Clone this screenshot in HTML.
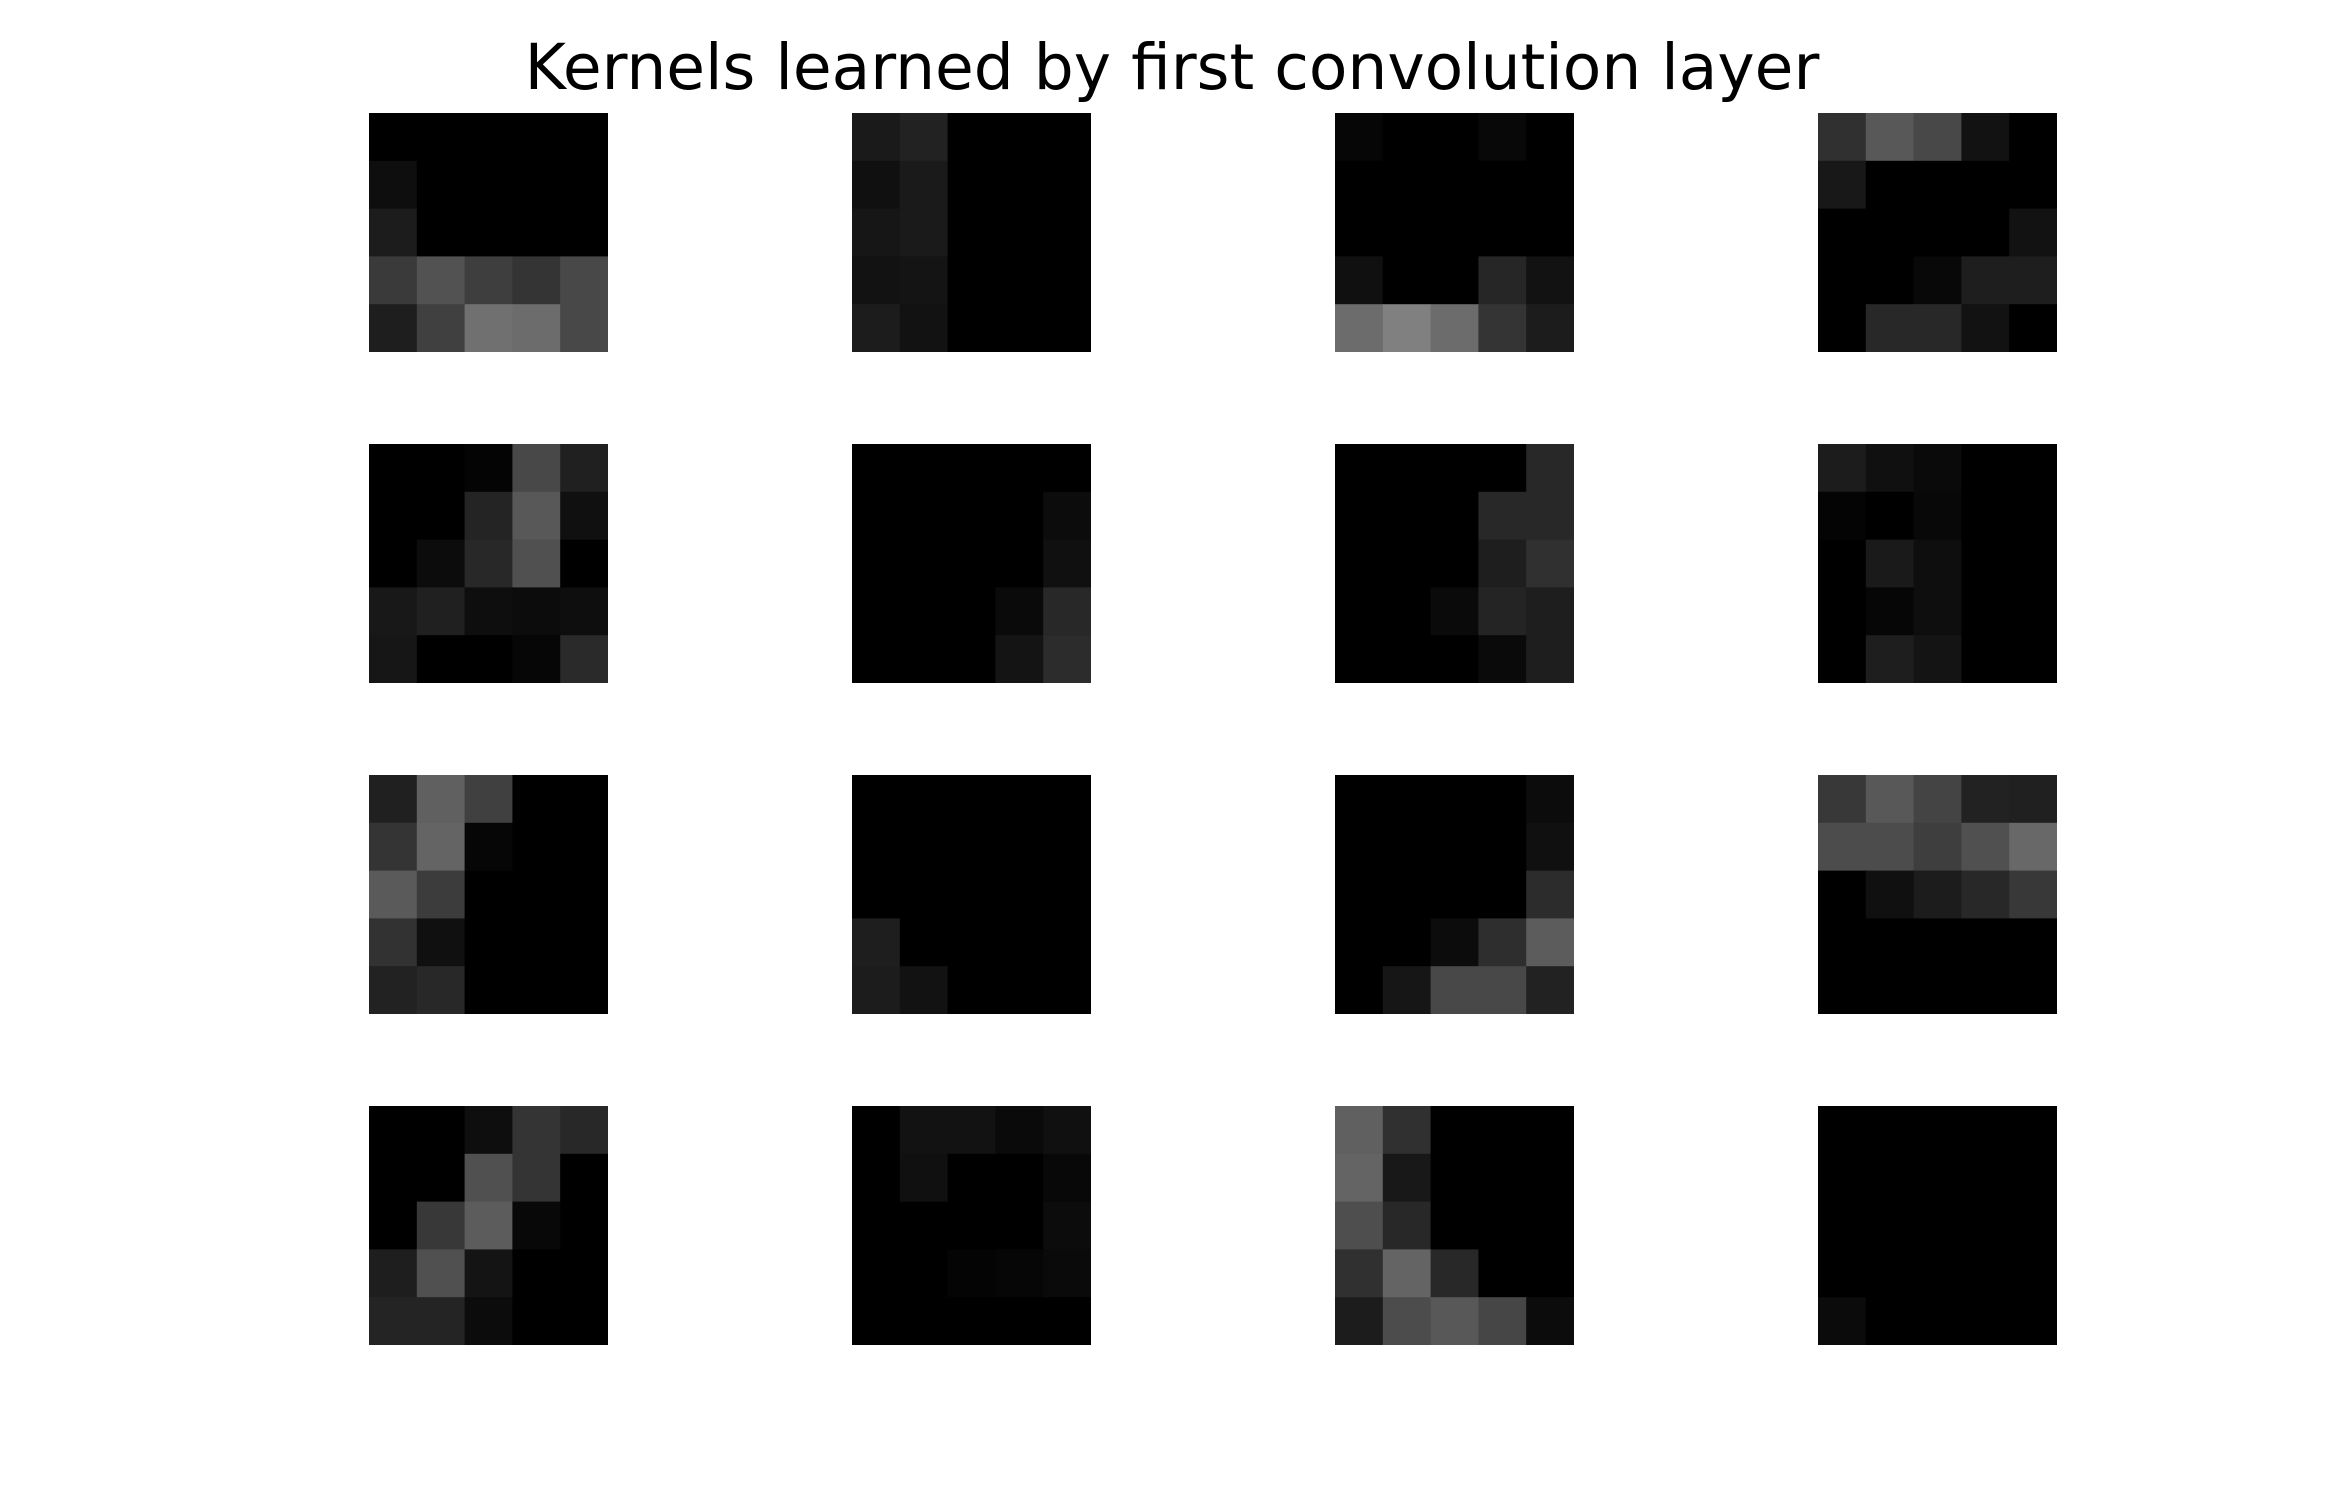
<!DOCTYPE html>
<html>
<head>
<meta charset="utf-8">
<style>
  html, body { margin: 0; padding: 0; background: #ffffff; }
  body { width: 2344px; height: 1511px; overflow: hidden; }
  svg { display: block; }
</style>
</head>
<body>
<svg id="chart" width="2344" height="1511" viewBox="0 0 2344 1511" xmlns="http://www.w3.org/2000/svg">
  <rect x="0" y="0" width="2344" height="1511" fill="#ffffff"></rect>
  <text x="1172" y="89" text-anchor="middle" font-family="'DejaVu Sans', 'Liberation Sans', sans-serif" font-size="63" fill="#000000">Kernels learned by first convolution layer</text>
  <g id="kernels"></g>
</svg>
<script>
// Kernel intensity values (0-255 grayscale), 16 kernels of 5x5, row-major
const kernelNames = ["kernel-1","kernel-2","kernel-3","kernel-4","kernel-5","kernel-6","kernel-7","kernel-8","kernel-9","kernel-10","kernel-11","kernel-12","kernel-13","kernel-14","kernel-15","kernel-16"];
const kernel1 = [[0,0,0,0,0],[14,0,0,0,0],[28,0,0,0,0],[58,82,62,52,72],[30,64,112,108,72]];
const kernel2 = [[26,34,0,0,0],[16,26,0,0,0],[22,26,0,0,0],[18,20,0,0,0],[28,18,0,0,0]];
const kernel3 = [[6,0,0,8,0],[0,0,0,0,0],[0,0,0,0,0],[16,0,0,38,18],[108,128,108,52,28]];
const kernel4 = [[48,88,72,18,0],[24,0,0,0,0],[0,0,0,0,18],[0,0,8,30,30],[0,40,40,18,0]];
const kernel5 = [[0,0,4,72,32],[0,0,36,88,16],[0,12,40,80,0],[24,32,14,12,14],[22,0,0,6,42]];
const kernel6 = [[0,0,0,0,0],[0,0,0,0,12],[0,0,0,0,16],[0,0,0,10,40],[0,0,0,20,44]];
const kernel7 = [[0,0,0,0,40],[0,0,0,40,40],[0,0,0,30,48],[0,0,10,36,30],[0,0,0,10,30]];
const kernel8 = [[28,16,10,0,0],[4,0,8,0,0],[0,26,14,0,0],[0,6,14,0,0],[0,30,20,0,0]];
const kernel9 = [[32,96,64,0,0],[52,100,6,0,0],[90,60,0,0,0],[50,16,0,0,0],[34,40,0,0,0]];
const kernel10 = [[0,0,0,0,0],[0,0,0,0,0],[0,0,0,0,0],[30,0,0,0,0],[28,18,0,0,0]];
const kernel11 = [[0,0,0,0,12],[0,0,0,0,16],[0,0,0,0,44],[0,0,12,46,92],[0,22,72,72,34]];
const kernel12 = [[56,88,68,34,32],[76,76,62,80,104],[0,16,28,40,56],[0,0,0,0,0],[0,0,0,0,0]];
const kernel13 = [[0,0,14,52,40],[0,0,80,52,0],[0,56,92,8,0],[30,80,20,0,0],[36,36,12,0,0]];
const kernel14 = [[0,18,18,10,16],[0,16,0,0,8],[0,0,0,0,12],[0,0,4,6,10],[0,0,0,0,0]];
const kernel15 = [[96,48,0,0,0],[100,24,0,0,0],[78,40,0,0,0],[48,100,40,0,0],[28,76,88,70,12]];
const kernel16 = [[0,0,0,0,0],[0,0,0,0,0],[0,0,0,0,0],[0,0,0,0,0],[11,0,0,0,0]];
const kernels = [kernel1,kernel2,kernel3,kernel4,kernel5,kernel6,kernel7,kernel8,kernel9,kernel10,kernel11,kernel12,kernel13,kernel14,kernel15,kernel16];

const NS = "http://www.w3.org/2000/svg";
const g = document.getElementById("kernels");
const x0 = 369, y0 = 113, dx = 483, dy = 331, size = 239;
const cell = size / 5;
function panelX(i) { return x0 + (i % 4) * dx; }
function panelY(i) { return y0 + Math.floor(i / 4) * dy; }

kernels.forEach((k, i) => {
  const pg = document.createElementNS(NS, "g");
  
  
  for (let r = 0; r < 5; r++) {
    for (let c = 0; c < 5; c++) {
      const v = Math.max(0, Math.min(255, Math.round(k[r][c])));
      const rect = document.createElementNS(NS, "rect");
      const w = (c === 4) ? cell : cell + 0.6;
      const h = (r === 4) ? cell : cell + 0.6;
      rect.setAttribute("x", (panelX(i) + c * cell).toFixed(2));
      rect.setAttribute("y", (panelY(i) + r * cell).toFixed(2));
      rect.setAttribute("width", w.toFixed(2));
      rect.setAttribute("height", h.toFixed(2));
      rect.setAttribute("fill", `rgb(${v},${v},${v})`);
      
      
      pg.appendChild(rect);
    }
  }
  g.appendChild(pg);
});
</script>
</body>
</html>
